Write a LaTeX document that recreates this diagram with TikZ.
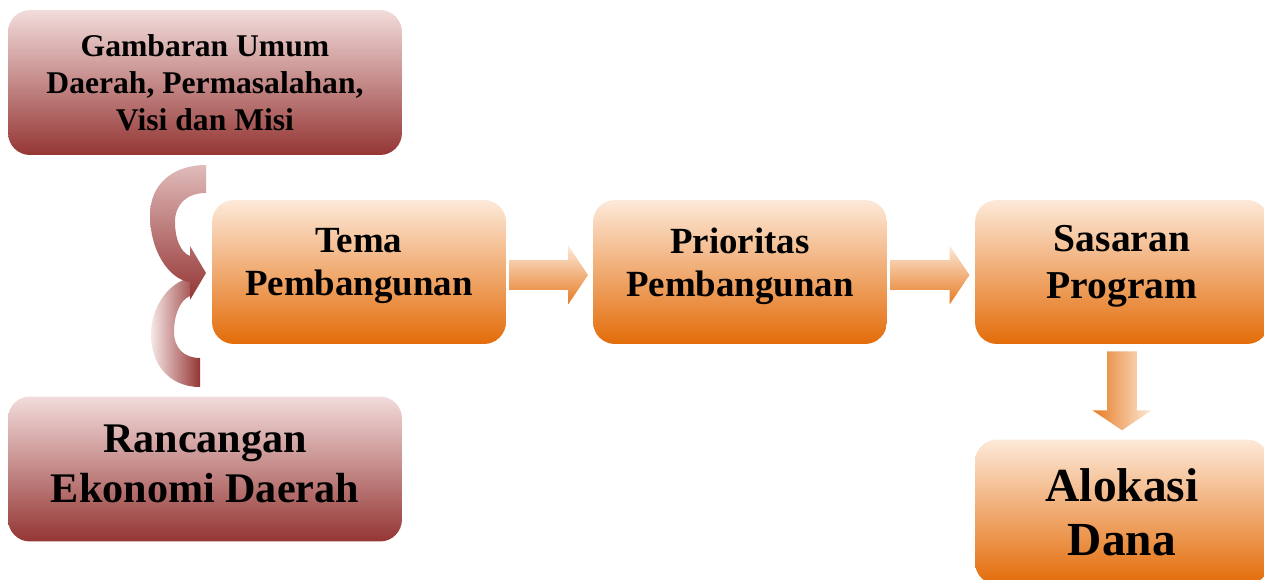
\documentclass[tikz,border=0pt]{standalone}
\usepackage{fontspec}
\setmainfont{Liberation Serif}
\usepackage{xcolor}
\usetikzlibrary{shapes.arrows, calc}

\definecolor{redlight}{HTML}{F2DCDB}
\definecolor{reddark}{HTML}{943634}
\definecolor{orlight}{HTML}{FDE9D9}
\definecolor{ordark}{HTML}{E36C09}

\tikzset{
    redbox/.style={rounded corners=0.44cm, top color=redlight, bottom color=reddark,
        minimum width=7.88cm, minimum height=2.9cm, align=center, inner sep=0pt},
    orbox/.style={rounded corners=0.44cm, top color=orlight, bottom color=ordark,
        minimum width=5.88cm, minimum height=2.88cm, align=center, inner sep=0pt},
    rowtext/.style={text depth=0.4cm},
    blockarrow/.style={single arrow, inner sep=0.29cm, minimum height=1.58cm, minimum width=1.16cm,
        single arrow head extend=0.29cm, single arrow tip angle=112},
}

\begin{document}
\begin{tikzpicture}[x=0.02cm, y=-0.02cm]
        \useasboundingbox (0,0) rectangle (1264,579);

        \node[redbox, font=\bfseries\fontsize{18}{21}\selectfont] (gambaran) at (205,82.5)
            {Gambaran Umum\\Daerah, Permasalahan,\\Visi dan Misi};
        \node[redbox, rowtext, text depth=0.22cm, font=\bfseries\fontsize{24}{28.3}\selectfont] (rancangan) at (205,469)
            {Rancangan\\Ekonomi Daerah};

        \node[orbox, rowtext, font=\bfseries\fontsize{21}{24.5}\selectfont] (tema) at (359,272)
            {Tema\\Pembangunan};
        \node[orbox, rowtext, font=\bfseries\fontsize{21}{24.5}\selectfont] (prioritas) at (740,272)
            {Prioritas\\Pembangunan};
        \node[orbox, rowtext, font=\bfseries\fontsize{22.5}{26.5}\selectfont] (sasaran) at (1122,272)
            {Sasaran\\Program};
        \node[orbox, minimum height=2.9cm, font=\bfseries\fontsize{27}{31}\selectfont] (alokasi) at (1122,512)
            {Alokasi\\Dana};

        \node[blockarrow, top color=orlight, bottom color=ordark!90] (panah1)
            at ($(tema.east)!0.5!(prioritas.west)+(-6,3)$) {};
        \node[blockarrow, top color=orlight, bottom color=ordark!90] (panah2)
            at ($(prioritas.east)!0.5!(sasaran.west)+(-6,3)$) {};
        \node[blockarrow, shape border rotate=270, left color=ordark!90, right color=orlight] (panah3)
            at ($(sasaran.south)!0.5!(alokasi.north)+(0,-6)$) {};

        \shade[left color=redlight!70, right color=reddark]
            (200,387) .. controls (170,387) and (151,365) .. (151,335)
            .. controls (151,305) and (170,282) .. (190,278) -- (190,296)
            .. controls (180,300) and (174,315) .. (174,332)
            .. controls (174,348) and (184,358) .. (200,358) -- cycle;
        \shade[top color=redlight!80!reddark, bottom color=reddark]
            (206,165) .. controls (172,165) and (150,185) .. (150,215)
            .. controls (150,252) and (170,280) .. (190,282) -- (190,300) -- (206,273)
            -- (190,246) -- (190,256) .. controls (180,252) and (175,238) .. (175,222)
            .. controls (175,205) and (186,193) .. (206,193) -- cycle;
    \end{tikzpicture}
\end{document}
